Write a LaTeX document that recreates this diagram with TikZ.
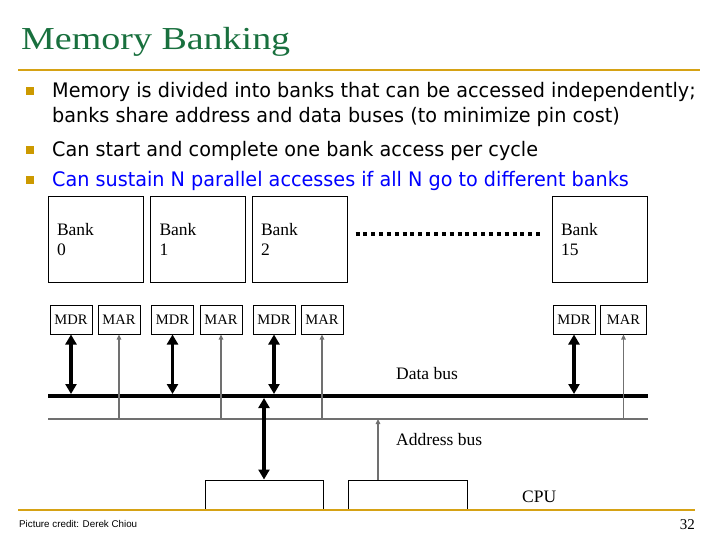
\documentclass[tikz,border=0pt]{standalone}
\usepackage{fontspec}
\setmainfont{Liberation Serif}
\newfontfamily\titlefont{Liberation Serif}[FakeStretch=1.187]
\newfontfamily\bodyfont{DejaVu Sans}[FakeStretch=0.96]
\newfontfamily\creditfont{Liberation Sans}
\usetikzlibrary{arrows.meta}

\definecolor{titlegreen}{RGB}{25,112,62}
\definecolor{rulegold}{RGB}{214,162,20}
\definecolor{bulletgold}{RGB}{204,153,0}
\definecolor{busgray}{RGB}{112,112,112}
\definecolor{hiblue}{RGB}{0,0,255}

\tikzset{
  bulletsq/.style={fill=bulletgold, minimum size=8pt, inner sep=0pt},
  bodytext/.style={anchor=base west, inner sep=0pt, font=\bodyfont\fontsize{20}{24}\selectfont},
  bankbox/.style={draw, line width=1pt, minimum width=95pt, minimum height=85pt,
    inner sep=0pt, text width=77pt, align=left,
    font=\fontsize{17.5}{20}\selectfont},
  regbox/.style={draw, line width=1pt, minimum width=42pt, minimum height=29pt,
    inner sep=0pt, font=\fontsize{14.5}{16}\selectfont},
  cpubox/.style={draw, line width=1pt, minimum width=118pt, minimum height=29pt, inner sep=0pt},
  lbl/.style={anchor=base west, inner sep=0pt, font=\fontsize{17.5}{20}\selectfont},
  dataarrow/.style={line width=3.2pt,
    {Triangle[length=10pt,width=11pt]}-{Triangle[length=10pt,width=11pt]}},
  addrarrow/.style={busgray, line width=1.3pt, -{Triangle[length=5pt,width=4.5pt]}},
  dotline/.style={line width=3.5pt, dash pattern=on 4pt off 3.85pt},
  goldrule/.style={rulegold, line width=1.6pt}
}

\begin{document}
\begin{tikzpicture}[x=1pt,y=-1pt]
\path[use as bounding box] (0,0) rectangle (720,540);

% title and rule
\node[anchor=base west, inner sep=0pt, text=titlegreen,
      font=\titlefont\fontsize{32}{36}\selectfont] (title) at (21,50) {Memory Banking};
\coordinate (topL) at (18,70);
\coordinate (topR) at (700,70);
\draw[goldrule] (topL) -- (topR);

% bullet points
\node[bulletsq] (b1) at (30,91.5) {};
\node[bulletsq] (b2) at (30,150) {};
\node[bulletsq] (b3) at (30,180.5) {};
\node[bodytext] (t1a) at (52,98) {Memory is divided into banks that can be accessed independently;};
\node[bodytext] (t1b) at (52,123) {banks share address and data buses (to minimize pin cost)};
\node[bodytext] (t2) at (52,156.5) {Can start and complete one bank access per cycle};
\node[bodytext, text=hiblue] (t3) at (52,187) {Can sustain N parallel accesses if all N go to different banks};

% memory banks
\node[bankbox] (bank0) at (95.5,239.5) {Bank\\0};
\node[bankbox] (bank1) at (198,239.5) {Bank\\1};
\node[bankbox] (bank2) at (299.5,239.5) {Bank\\2};
\node[bankbox] (bank15) at (599.5,239.5) {Bank\\15};
\draw[dotline] ([xshift=8pt,yshift=5.5pt]bank2.east) -- ([xshift=-9pt,yshift=5.5pt]bank15.west);

% data and address registers
\node[regbox] (mdr0) at (71,319.5) {MDR};
\node[regbox] (mar0) at (119,319.5) {MAR};
\node[regbox] (mdr1) at (172.5,319.5) {MDR};
\node[regbox] (mar1) at (221,319.5) {MAR};
\node[regbox] (mdr2) at (274,319.5) {MDR};
\node[regbox] (mar2) at (322,319.5) {MAR};
\node[regbox] (mdr15) at (574,319.5) {MDR};
\node[regbox, minimum width=46pt] (mar15) at (623.5,319.5) {MAR};

% buses
\coordinate (dbL) at (48,396);
\coordinate (dbR) at (648,396);
\coordinate (abL) at (48,419);
\coordinate (abR) at (648,419);
\draw[line width=4pt] (dbL) -- (dbR);
\draw[busgray, line width=1.5pt] (abL) -- (abR);

% register connections
\foreach \r in {mdr0,mdr1,mdr2,mdr15}
  \draw[dataarrow, shorten >=2pt] (\r.south) -- (\r.south |- dbL);
\foreach \r in {mar0,mar1,mar2,mar15}
  \draw[addrarrow] (\r.south |- abL) -- (\r.south);

% CPU side
\node[cpubox] (cpuD) at (264,494.5) {};
\node[cpubox, minimum width=119pt] (cpuA) at (407.5,494.5) {};
\draw[dataarrow, shorten >=2pt] (cpuD.north) -- (cpuD.north |- dbL);
\draw[addrarrow] ([xshift=-29.5pt]cpuA.north) -- ([xshift=-29.5pt]cpuA.north |- abL);

% labels
\node[lbl] (dlabel) at (396,379) {Data bus};
\node[lbl] (alabel) at (396,445) {Address bus};
\node[lbl] (cpulabel) at (522,502) {CPU};

% footer
\coordinate (botL) at (18,510);
\coordinate (botR) at (695,510);
\draw[goldrule] (botL) -- (botR);
\node[anchor=base west, inner sep=0pt, font=\creditfont\fontsize{9.8}{12}\selectfont] (credit) at (19,527) {Picture credit: Derek Chiou};
\node[anchor=base east, inner sep=0pt, font=\fontsize{15}{17}\selectfont] (pagenum) at (695,529) {32};
\end{tikzpicture}
\end{document}
